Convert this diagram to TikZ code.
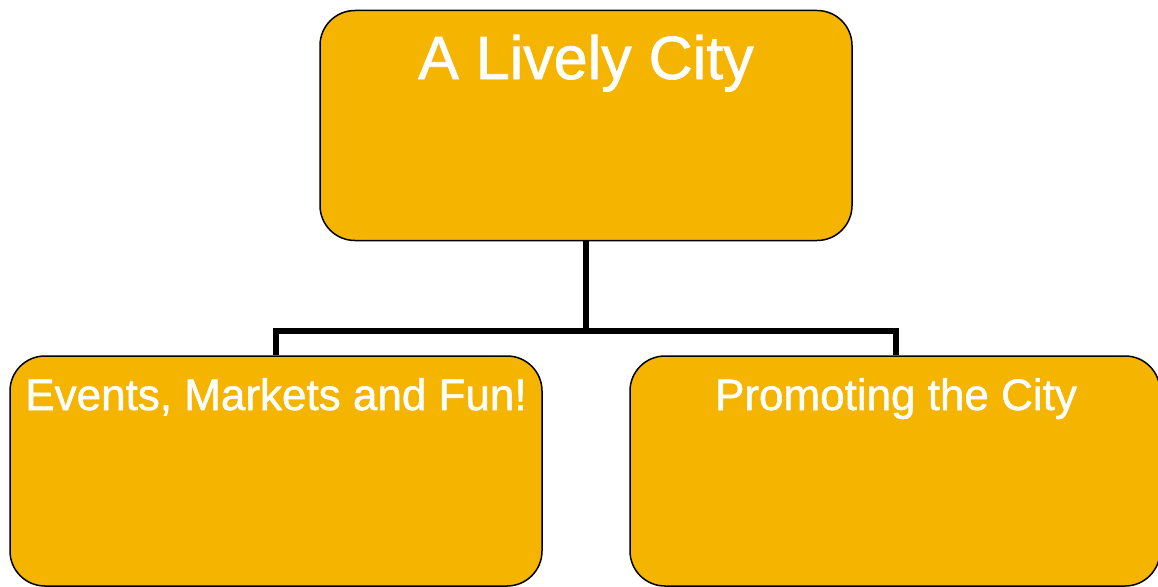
\documentclass[tikz,border=0pt]{standalone}
\usepackage{fontspec}
\setmainfont{Liberation Sans}
\newfontfamily\lblfont[FakeBold=1.2]{Liberation Sans}
\definecolor{boxfill}{HTML}{F4B400}
\begin{document}
\begin{tikzpicture}[x=1pt,y=-1pt,
  box/.style={draw=black,line width=1.5pt,fill=boxfill,rounded corners=35pt,minimum width=#1,minimum height=230pt,inner sep=0pt},
  box/.default=532pt,
  lbl/.style={text=white,anchor=base},
  conn/.style={line width=5.5pt}]
\useasboundingbox (0,0) rectangle (1158,586);
\node[box] (top) at (586,125.5) {};
\node[box] (left) at (276,471) {};
\node[box=530pt] (right) at (895,471) {};
\node[lbl,font=\lblfont\fontsize{61}{61}\selectfont] (toplbl) at (586,79) {A Lively City};
\node[lbl,font=\lblfont\fontsize{44}{44}\selectfont] (leftlbl) at (276,410) {Events, Markets and Fun!};
\node[lbl,font=\lblfont\fontsize{44}{44}\selectfont] (rightlbl) at (896,410) {Promoting the City};
\coordinate (j) at (586,331);
\draw[conn] (top.south) -- (j);
\draw[conn] (left.north) |- (j) -| (right.north -| 896,0);
\end{tikzpicture}
\end{document}
